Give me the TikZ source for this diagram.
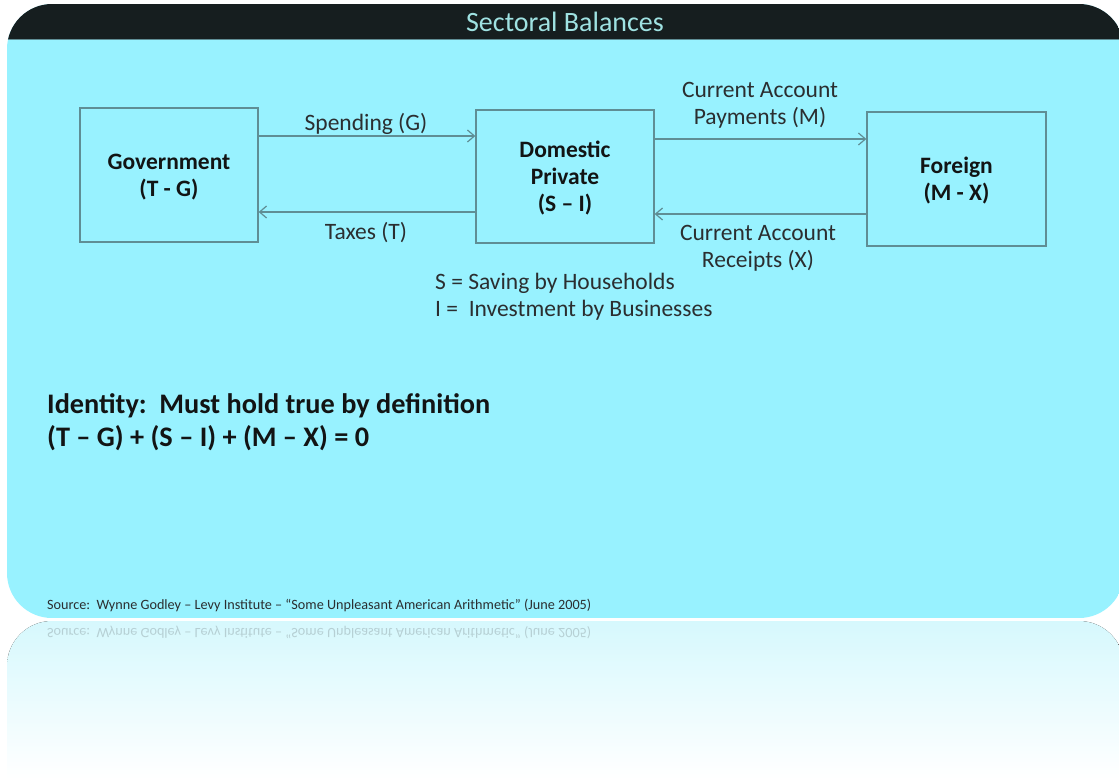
\documentclass[tikz,border=0pt]{standalone}
\usepackage{fontspec}
\setmainfont{Carlito}
\usetikzlibrary{arrows.meta,calc}
\definecolor{panelcyan}{HTML}{98F2FF}
\definecolor{bardark}{HTML}{161E1F}
\definecolor{titlecol}{HTML}{9FE2E2}
\definecolor{edgecol}{HTML}{5F8E95}
\definecolor{labcol}{HTML}{2B2E30}
\definecolor{boldcol}{HTML}{121414}
\definecolor{reflcol}{HTML}{D6F8FD}
\tikzset{
  sector/.style={draw=edgecol, line width=1.3pt, fill=panelcyan, minimum width=178pt, minimum height=134pt,
    align=center, inner sep=0pt, font=\fontsize{23.5}{27}\selectfont\bfseries, text=boldcol},
  sectortext/.style={align=center, inner sep=0pt, font=\fontsize{23.5}{27}\selectfont\bfseries, text=boldcol},
  flow/.style={draw=edgecol, line width=1.3pt, -{Straight Barb[length=7pt,width=12pt,line width=1.2pt]}},
  lab/.style={font=\fontsize{23.5}{27}\selectfont, text=labcol, align=center, inner sep=0pt},
}
\begin{document}
\begin{tikzpicture}[x=1pt,y=-1pt]
\useasboundingbox (0,0) rectangle (1119,779);
\fill[white] (0,0) rectangle (1119,779);
% reflection
\fill[top color=reflcol, bottom color=white] (7,779) [rounded corners=45pt] -- (7,621) -- (1124,621) [sharp corners] -- (1124,779) -- cycle;
\node[anchor=west, inner sep=0pt, font=\fontsize{14.2}{16}\selectfont, text=labcol, opacity=0.2, yscale=-1] (refl) at (47,633)
  {Source:\ \ Wynne Godley -- Levy Institute -- “Some Unpleasant American Arithmetic” (June 2005)};
% main panel
\begin{scope}
\clip[rounded corners=45pt] (7,4) rectangle (1124,618);
\fill[panelcyan] (7,4) rectangle (1124,618);
\fill[bardark] (7,4) rectangle (1124,39);
\draw[edgecol, line width=1pt] (7,39.5) -- (1124,39.5);
\end{scope}
\node[font=\fontsize{28}{30}\selectfont, text=titlecol, inner sep=0pt] (title) at (565,22) {Sectoral Balances};
% sectors
\node[sector] (gov) at (169,175) {};
\node[sector, minimum height=133pt] (dp) at (565,176.5) {};
\node[sector, minimum width=179pt] (for) at (956.5,179) {};
\node[sectortext] (govt) at (169,177) {Government\\(T - G)};
\node[sectortext] (dpt) at (565,178) {Domestic\\Private\\(S -- I)};
\node[sectortext] (fort) at (956.5,181) {Foreign\\(M - X)};
% flows
\draw[flow] ([yshift=39pt]gov.east) -- ([yshift=39pt]gov.east -| dp.west);
\draw[flow] ([yshift=-35.5pt]dp.west) -- ([yshift=-35.5pt]dp.west -| gov.east);
\draw[flow] ([yshift=37.5pt]dp.east) -- ([yshift=37.5pt]dp.east -| for.west);
\draw[flow] ([yshift=-37.5pt]dp.east -| for.west) -- ([yshift=-37.5pt]dp.east);
\node[lab] (lsp) at (366,123.5) {Spending (G)};
\node[lab] (ltx) at (366,232.5) {Taxes (T)};
\node[lab] (lcp) at (760,105) {Current Account\\Payments (M)};
\node[lab] (lcr) at (758,248) {Current Account\\Receipts (X)};
\node[lab, align=left, anchor=west] (defs) at (435,297) {S = Saving by Households\\I =\ \ Investment by Businesses};
% identity
\node[anchor=west, align=left, inner sep=0pt, font=\fontsize{28.3}{33}\selectfont\bfseries, text=boldcol] (ident) at (47,422)
  {Identity:\ \ Must hold true by definition\\(T -- G) + (S -- I) + (M -- X) = 0};
\node[anchor=west, inner sep=0pt, font=\fontsize{14.2}{16}\selectfont, text=labcol] (src) at (47,605.5)
  {Source:\ \ Wynne Godley -- Levy Institute -- “Some Unpleasant American Arithmetic” (June 2005)};
\end{tikzpicture}
\end{document}
